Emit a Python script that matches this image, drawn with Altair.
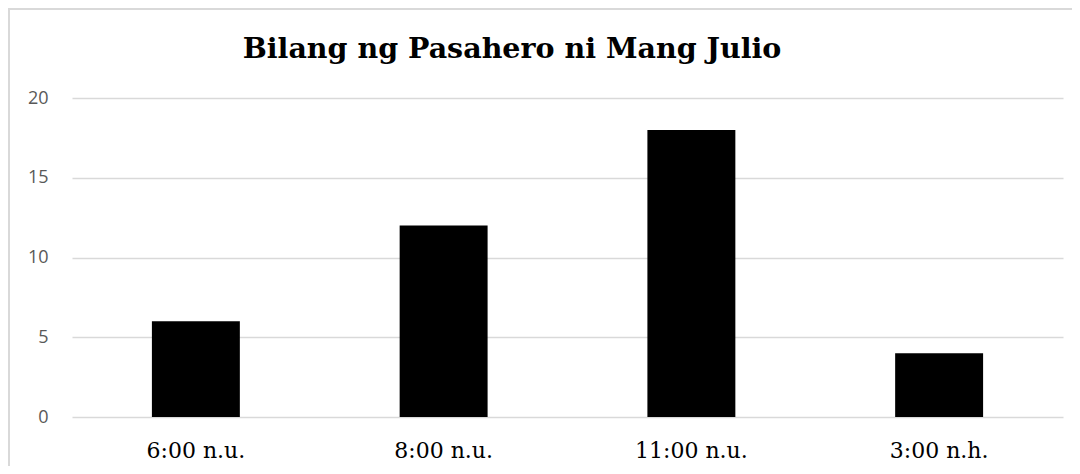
import altair as alt
import pandas as pd

categories = ["6:00 n.u.", "8:00 n.u.", "11:00 n.u.", "3:00 n.h."]
values = [6, 12, 18, 4]
title_text = "Bilang ng Pasahero ni Mang Julio"

df = pd.DataFrame({"oras": categories, "bilang": values})

W, H = 991, 319

bars = alt.Chart(df).mark_bar(color="black").encode(
    x=alt.X("oras:N", sort=categories,
            scale=alt.Scale(paddingInner=0.645, paddingOuter=0.3225),
            axis=alt.Axis(title=None, labelAngle=0, ticks=False, domain=False,
                          grid=False, labelFont="DejaVu Serif", labelFontSize=22,
                          labelColor="#000000", labelPadding=23)),
    y=alt.Y("bilang:Q", scale=alt.Scale(domain=[0, 20]),
            axis=alt.Axis(title=None, values=[0, 5, 10, 15, 20], ticks=False,
                          domain=False, gridColor="#d9d9d9", gridWidth=1.3,
                          labelFont="Open Sans", labelFontSize=18,
                          labelColor="#595959", labelPadding=24)),
)

title = alt.Chart(pd.DataFrame({"t": [title_text]})).mark_text(
    font="DejaVu Serif", fontWeight="bold", fontSize=28.5, color="#000000",
    align="center", baseline="alphabetic"
).encode(text="t:N", x=alt.value(440), y=alt.value(-40))

border_left = alt.Chart(pd.DataFrame({"a": [0]})).mark_rule(
    color="#d9d9d9", strokeWidth=2
).encode(x=alt.value(-63), y=alt.value(-90), y2=alt.value(H + 49))

border_top = alt.Chart(pd.DataFrame({"a": [0]})).mark_rule(
    color="#d9d9d9", strokeWidth=2
).encode(y=alt.value(-89), x=alt.value(-64), x2=alt.value(W + 9))

chart = alt.layer(bars, title, border_left, border_top).properties(
    width=W, height=H,
    autosize=alt.AutoSizeParams(type="none"),
    padding={"left": 64, "top": 90, "right": 9, "bottom": 49},
).configure(
    background="white",
    view=alt.ViewConfig(stroke="transparent", strokeWidth=0),
)

chart.save("out.html", embed_options={"renderer": "svg", "actions": False})
